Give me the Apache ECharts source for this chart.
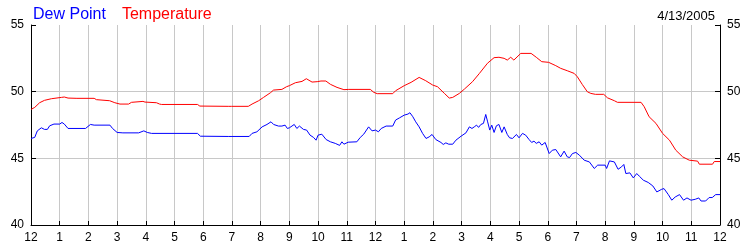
<!DOCTYPE html>
<html>
<head>
<meta charset="utf-8">
<script src="https://cdn.jsdelivr.net/npm/echarts@6/dist/echarts.min.js"></script>
<style>html,body{margin:0;padding:0;background:#fff;}#c{width:750px;height:250px;}</style>
</head>
<body>
<div id="c"></div>
<script>
var dateText = '4/13/2005';
var hourTicks = [0,1,2,3,4,5,6,7,8,9,10,11,12,13,14,15,16,17,18,19,20,21,22,23,24];
var hourLabels = ['12','1','2','3','4','5','6','7','8','9','10','11','12','1','2','3','4','5','6','7','8','9','10','11','12'];

var tempHours = [0,0.13,0.3,0.47,0.71,1.06,1.16,1.29,1.6,2.2,2.28,2.74,2.92,3.1,3.4,3.5,3.9,3.97,4.37,4.48,4.55,5.8,5.88,6.87,6.93,6.98,7.57,7.7,7.93,8.1,8.34,8.45,8.74,8.9,9.0,9.21,9.44,9.59,9.79,9.97,10.1,10.27,10.43,10.66,10.9,11.07,11.82,11.94,12.06,12.6,12.7,13.0,13.24,13.52,13.75,13.99,14.16,14.4,14.57,14.69,14.92,15.1,15.38,15.62,15.9,16.13,16.3,16.48,16.59,16.71,16.82,17.06,17.42,17.6,17.79,18.03,18.28,18.45,18.68,18.92,19.03,19.2,19.38,19.5,19.66,19.95,20.08,20.32,20.43,21.25,21.36,21.53,21.77,22.0,22.24,22.46,22.7,22.93,23.22,23.28,23.74,23.8,24];
var tempValues = [48.67,48.82,49.17,49.35,49.47,49.57,49.6,49.52,49.5,49.5,49.4,49.32,49.17,49.07,49.07,49.2,49.27,49.22,49.17,49.07,49.04,49.04,48.92,48.9,48.94,48.9,48.9,49.07,49.32,49.57,49.92,50.12,50.17,50.37,50.45,50.67,50.77,50.97,50.72,50.75,50.8,50.8,50.55,50.32,50.15,50.17,50.17,49.95,49.85,49.85,50.07,50.45,50.7,51.07,50.82,50.5,50.37,49.87,49.52,49.57,49.87,50.2,50.75,51.37,52.13,52.55,52.58,52.5,52.37,52.58,52.37,52.87,52.87,52.58,52.25,52.2,51.95,51.75,51.57,51.37,51.12,50.55,49.99,49.87,49.8,49.8,49.54,49.32,49.2,49.2,48.87,48.12,47.62,46.87,46.36,45.61,45.11,44.86,44.79,44.56,44.56,44.76,44.76];

var dewHours = [0,0.13,0.22,0.36,0.41,0.47,0.57,0.65,0.8,1.0,1.08,1.16,1.29,1.9,2.07,2.2,2.75,2.84,3.0,3.2,3.75,3.93,4.05,4.2,5.8,5.9,6.87,6.92,7.0,7.6,7.7,7.87,8.05,8.22,8.36,8.45,8.62,8.74,8.85,8.93,9.0,9.17,9.26,9.35,9.49,9.6,9.72,9.84,9.93,10.0,10.13,10.28,10.43,10.6,10.75,10.83,10.9,11.05,11.35,11.47,11.59,11.76,11.88,12.0,12.1,12.2,12.37,12.6,12.7,12.84,13.0,13.13,13.2,13.3,13.4,13.52,13.64,13.76,13.87,13.97,14.1,14.28,14.36,14.45,14.55,14.69,14.8,14.98,15.15,15.27,15.36,15.44,15.52,15.59,15.67,15.76,15.84,15.9,15.98,16.05,16.13,16.21,16.3,16.4,16.48,16.59,16.67,16.77,16.91,17.0,17.12,17.23,17.35,17.44,17.52,17.6,17.7,17.79,17.91,18.05,18.16,18.28,18.45,18.57,18.68,18.76,18.86,18.98,19.1,19.27,19.45,19.62,19.74,20.0,20.05,20.15,20.32,20.45,20.57,20.65,20.72,20.86,20.98,21.1,21.19,21.33,21.5,21.66,21.8,21.97,22.05,22.2,22.32,22.44,22.59,22.73,22.85,22.99,23.14,23.26,23.34,23.5,23.62,23.73,23.85,24];
var dewValues = [46.49,46.57,47.06,47.29,47.36,47.17,47.17,47.44,47.57,47.57,47.69,47.57,47.24,47.24,47.54,47.49,47.49,47.24,46.94,46.91,46.91,47.06,46.94,46.87,46.87,46.66,46.64,46.76,46.64,46.64,46.87,46.99,47.36,47.54,47.74,47.54,47.42,47.42,47.49,47.24,47.29,47.54,47.24,47.42,47.17,47.12,46.74,46.57,46.36,46.74,46.81,46.41,46.24,46.12,45.97,46.24,46.06,46.21,46.24,46.57,46.81,47.36,47.06,47.12,46.99,47.24,47.42,47.42,47.87,48.04,48.24,48.32,48.42,48.12,47.74,47.36,46.87,46.49,46.61,46.79,46.41,46.19,46.04,46.16,46.06,46.06,46.36,46.66,46.91,47.36,47.24,47.36,47.49,47.32,47.54,47.62,48.29,47.79,47.12,47.49,46.94,47.44,47.54,46.94,47.36,46.79,46.54,46.49,46.79,46.54,46.87,46.74,46.41,46.19,46.29,46.12,46.24,45.99,46.19,45.36,45.61,45.66,45.11,45.54,45.11,45.06,45.36,45.44,45.24,44.86,44.73,44.24,44.49,44.49,44.24,44.81,44.73,44.18,44.36,44.54,43.86,43.91,43.53,43.86,43.66,43.36,43.19,42.93,42.48,42.68,42.73,42.28,41.86,42.1,42.28,41.86,42.03,41.86,41.93,42.03,41.8,41.8,42.06,42.06,42.28,42.28];

var yMin = 40, yMax = 55, yStep = 5;

function zip(a, b) { return a.map(function (x, i) { return [x, b[i]]; }); }

var FONT = '"Liberation Sans", Arial, sans-serif';
var chart = echarts.init(document.getElementById('c'), null, {renderer: 'canvas'});
var yAxisBase = function (pos) {
  return {
    type: 'value', position: pos, min: yMin, max: yMax, interval: yStep,
    axisLine: {show: true, lineStyle: {color: '#000', width: 1}},
    axisTick: {show: true, inside: true, length: 5, lineStyle: {color: '#000'}},
    axisLabel: {color: '#000', fontSize: 12, fontFamily: FONT, margin: 7},
    splitLine: {show: pos === 'left', lineStyle: {color: ['transparent', '#c8c8c8', '#c8c8c8', 'transparent'], width: 1}}
  };
};
chart.setOption({
  animation: false,
  backgroundColor: '#fff',
  textStyle: {fontFamily: FONT},
  title: {
    text: dateText, right: 30, top: 5,
    textStyle: {fontSize: 13, fontWeight: 'normal', color: '#000', fontFamily: FONT}
  },
  legend: {
    left: 23, top: 2, icon: 'none', itemWidth: 0, itemGap: 11,
    data: [
      {name: 'Dew Point', textStyle: {color: '#0000ff'}},
      {name: 'Temperature', textStyle: {color: '#ff0000'}}
    ],
    textStyle: {fontSize: 16, fontFamily: FONT},
    selectedMode: false
  },
  grid: {left: 31, right: 30, top: 25, bottom: 25, containLabel: false},
  xAxis: {
    type: 'value', min: 0, max: 24, interval: 1,
    axisLine: {show: true, onZero: false, lineStyle: {color: '#000', width: 1}},
    axisTick: {show: true, inside: true, length: 4, lineStyle: {color: '#000'}},
    axisLabel: {
      color: '#000', fontSize: 12, fontFamily: FONT, margin: 7,
      formatter: function (v) { var i = hourTicks.indexOf(v); return i >= 0 ? hourLabels[i] : ''; }
    },
    splitLine: {show: true, lineStyle: {color: '#c8c8c8', width: 1}}
  },
  yAxis: [yAxisBase('left'), yAxisBase('right')],
  series: [
    {name: 'Dew Point', type: 'line', data: zip(dewHours, dewValues), showSymbol: false,
     lineStyle: {color: '#0000ff', width: 1}, itemStyle: {color: '#0000ff'}},
    {name: 'Temperature', type: 'line', data: zip(tempHours, tempValues), showSymbol: false,
     lineStyle: {color: '#ff0000', width: 1}, itemStyle: {color: '#ff0000'}}
  ]
});
</script>
</body>
</html>
